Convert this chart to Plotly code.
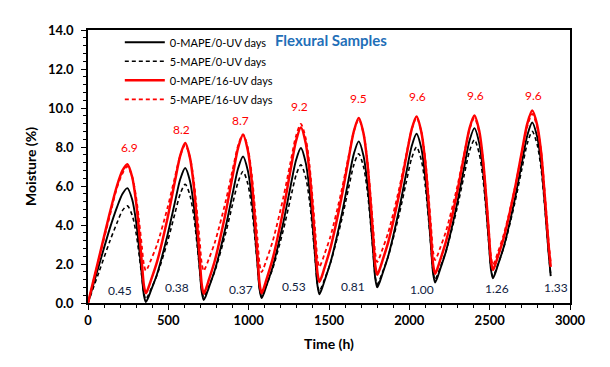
import plotly.graph_objects as go

# time axis (h) shared by all four series
hours = [
    0, 12, 30, 70, 135, 180, 215, 245, 275, 300, 320, 335, 348,
    360, 372, 390, 430, 495, 540, 575, 605, 635, 660, 680, 695, 708,
    720, 732, 750, 790, 855, 900, 935, 965, 995, 1020, 1040, 1055, 1068,
    1080, 1092, 1110, 1150, 1215, 1260, 1295, 1325, 1355, 1380, 1400, 1415, 1428,
    1440, 1452, 1470, 1510, 1575, 1620, 1655, 1685, 1715, 1740, 1760, 1775, 1788,
    1800, 1812, 1830, 1870, 1935, 1980, 2015, 2045, 2075, 2100, 2120, 2135, 2148,
    2160, 2172, 2190, 2230, 2295, 2340, 2375, 2405, 2435, 2460, 2480, 2495, 2508,
    2520, 2532, 2550, 2590, 2655, 2700, 2735, 2765, 2795, 2820, 2840, 2855, 2868,
    2880,
]

# moisture (%)
mape0_uv0 = [
    0, 0.34, 0.85, 1.98, 3.8, 4.9, 5.6, 5.89, 5.31, 4.14, 2.68, 1.45, 0.40,
    0.05, 0.22, 0.60, 1.49, 3.49, 5.13, 6.37, 6.92, 6.24, 4.89, 3.20, 1.77, 0.56,
    0.15, 0.33, 0.74, 1.70, 3.83, 5.60, 6.92, 7.51, 6.78, 5.33, 3.52, 1.99, 0.69,
    0.25, 0.44, 0.87, 1.87, 4.10, 5.95, 7.33, 7.95, 7.20, 5.70, 3.83, 2.25, 0.90,
    0.45, 0.65, 1.08, 2.10, 4.37, 6.25, 7.66, 8.29, 7.54, 6.04, 4.17, 2.60, 1.25,
    0.8, 1.0, 1.43, 2.45, 4.74, 6.63, 8.05, 8.68, 7.92, 6.39, 4.48, 2.88, 1.51,
    1.05, 1.25, 1.68, 2.71, 5.01, 6.91, 8.34, 8.97, 8.20, 6.66, 4.74, 3.12, 1.73,
    1.27, 1.47, 1.91, 2.95, 5.27, 7.18, 8.62, 9.26, 8.55, 7.2, 5.4, 3.8, 2.45,
    1.38,
]
mape5_uv0 = [
    0, 0.28, 0.7, 1.63, 3.15, 4.1, 4.75, 4.98, 4.50, 3.55, 2.35, 1.35, 0.49,
    0.2, 0.35, 0.67, 1.44, 3.15, 4.56, 5.62, 6.09, 5.51, 4.35, 2.91, 1.69, 0.65,
    0.3, 0.46, 0.82, 1.65, 3.52, 5.07, 6.22, 6.74, 6.10, 4.82, 3.23, 1.88, 0.73,
    0.35, 0.52, 0.89, 1.77, 3.72, 5.34, 6.55, 7.09, 6.44, 5.14, 3.52, 2.16, 0.99,
    0.6, 0.78, 1.16, 2.08, 4.13, 5.82, 7.09, 7.65, 6.98, 5.64, 3.97, 2.56, 1.35,
    0.95, 1.13, 1.51, 2.43, 4.48, 6.17, 7.44, 8.0, 7.32, 5.96, 4.26, 2.83, 1.61,
    1.2, 1.38, 1.77, 2.71, 4.79, 6.51, 7.80, 8.37, 7.67, 6.26, 4.51, 3.03, 1.77,
    1.35, 1.54, 1.95, 2.91, 5.08, 6.86, 8.20, 8.8, 8.15, 6.9, 5.2, 3.75, 2.45,
    1.45,
]
mape0_uv16 = [
    0, 0.41, 1.02, 2.38, 4.6, 6.0, 6.8, 7.12, 6.46, 5.13, 3.48, 2.09, 0.90,
    0.5, 0.69, 1.12, 2.12, 4.35, 6.20, 7.58, 8.2, 7.43, 5.88, 3.95, 2.33, 0.94,
    0.48, 0.68, 1.13, 2.19, 4.56, 6.51, 7.98, 8.63, 7.82, 6.19, 4.16, 2.45, 0.99,
    0.5, 0.71, 1.18, 2.29, 4.75, 6.79, 8.32, 9.0, 8.21, 6.62, 4.64, 2.98, 1.56,
    1.08, 1.29, 1.75, 2.85, 5.29, 7.30, 8.82, 9.49, 8.69, 7.08, 5.07, 3.38, 1.93,
    1.45, 1.65, 2.10, 3.16, 5.51, 7.46, 8.92, 9.57, 8.76, 7.15, 5.13, 3.44, 1.98,
    1.5, 1.70, 2.15, 3.21, 5.56, 7.51, 8.97, 9.62, 8.83, 7.24, 5.26, 3.60, 2.18,
    1.7, 1.90, 2.35, 3.42, 5.79, 7.75, 9.22, 9.87, 9.15, 7.75, 5.8, 4.2, 2.85,
    1.85,
]
mape5_uv16 = [
    0, 0.40, 1.0, 2.33, 4.45, 5.9, 6.65, 7.0, 6.47, 5.40, 4.06, 2.93, 1.97,
    1.65, 1.81, 2.17, 3.00, 4.88, 6.42, 7.58, 8.1, 7.46, 6.17, 4.55, 3.20, 2.04,
    1.65, 1.83, 2.21, 3.12, 5.15, 6.83, 8.09, 8.65, 7.94, 6.53, 4.76, 3.28, 2.00,
    1.58, 1.77, 2.19, 3.18, 5.38, 7.20, 8.57, 9.18, 8.45, 6.98, 5.15, 3.61, 2.29,
    1.85, 2.04, 2.46, 3.44, 5.64, 7.45, 8.81, 9.42, 8.69, 7.22, 5.39, 3.86, 2.54,
    2.1, 2.29, 2.69, 3.65, 5.8, 7.58, 8.91, 9.5, 8.77, 7.31, 5.49, 3.95, 2.64,
    2.2, 2.38, 2.78, 3.73, 5.85, 7.60, 8.92, 9.5, 8.75, 7.24, 5.35, 3.76, 2.40,
    1.95, 2.14, 2.57, 3.58, 5.83, 7.69, 9.08, 9.7, 9.05, 7.8, 5.95, 4.4, 3.05,
    2.1,
]

# peak labels (red) and trough labels (dark)
peak_labels = ['6.9', '8.2', '8.7', '9.2', '9.5', '9.6', '9.6', '9.6']
peak_x = [256, 585, 950, 1315, 1685, 2048, 2412, 2773]
peak_y = [7.96, 8.89, 9.35, 10.06, 10.48, 10.6, 10.64, 10.64]
trough_labels = ['0.45', '0.38', '0.37', '0.53', '0.81', '1.00', '1.26', '1.33']
trough_x = [200, 554, 950, 1283, 1652, 2081, 2544, 2914]
trough_y = [0.62, 0.77, 0.7, 0.87, 0.86, 0.69, 0.74, 0.77]

FONT = 'Lato'

series = [
    ('0-MAPE/0-UV days', mape0_uv0, 'black', 'solid', 1.9),
    ('5-MAPE/0-UV days', mape5_uv0, 'black', '4px,3px', 1.6),
    ('0-MAPE/16-UV days', mape0_uv16, '#ff0000', 'solid', 2.5),
    ('5-MAPE/16-UV days', mape5_uv16, '#ff0000', '4px,3px', 1.8),
]

fig = go.Figure()
for name, vals, color, dash, width in series:
    fig.add_trace(go.Scatter(
        x=hours, y=vals, mode='lines', name=name,
        line=dict(color=color, dash=dash, width=width, shape='spline', smoothing=0.8),
    ))

for txt, x, y in zip(peak_labels, peak_x, peak_y):
    fig.add_annotation(x=x, y=y, text=txt, showarrow=False,
                       font=dict(family=FONT, size=12, color='#ff0000'))
for txt, x, y in zip(trough_labels, trough_x, trough_y):
    fig.add_annotation(x=x, y=y, text=txt, showarrow=False,
                       font=dict(family=FONT, size=12, color='#10213f'))

fig.add_annotation(x=1512, y=13.5, text='<b>Flexural Samples</b>', showarrow=False,
                   font=dict(family=FONT, size=15, color='#1f6fb8'))

axis_common = dict(
    showline=True, linecolor='black', linewidth=1.5, mirror=True,
    showgrid=False, zeroline=False,
    ticks='outside', tickcolor='black', tickwidth=1.2, ticklen=5,
    tickfont=dict(family=FONT, size=13, color='black', weight='bold'),
)

fig.update_xaxes(
    range=[0, 3000], dtick=500, tick0=0,
    title=dict(text='<b>Time (h)</b>', font=dict(family=FONT, size=14, color='black'), standoff=12),
    minor=dict(dtick=100, ticks='outside', ticklen=3, tickcolor='black'),
    **axis_common,
)
fig.update_yaxes(
    range=[0, 14], dtick=2, tick0=0, tickformat='.1f', ticklabelstandoff=5,
    title=dict(text='<b>Moisture (%)</b>', font=dict(family=FONT, size=14, color='black'), standoff=8),
    minor=dict(dtick=0.4, ticks='outside', ticklen=3, tickcolor='black'),
    **axis_common,
)

# page body adds an 8px offset, so margins are shifted to keep the plot box in place
fig.update_layout(
    width=610, height=367,
    margin=dict(l=80, r=48, t=22, b=72),
    plot_bgcolor='white', paper_bgcolor='white',
    showlegend=True,
    legend=dict(
        x=0.066, y=1.008, xanchor='left', yanchor='top',
        bgcolor='rgba(0,0,0,0)', borderwidth=0,
        font=dict(family=FONT, size=11, color='black'),
        tracegroupgap=0, itemwidth=40,
    ),
)

fig.write_html("out.html")
